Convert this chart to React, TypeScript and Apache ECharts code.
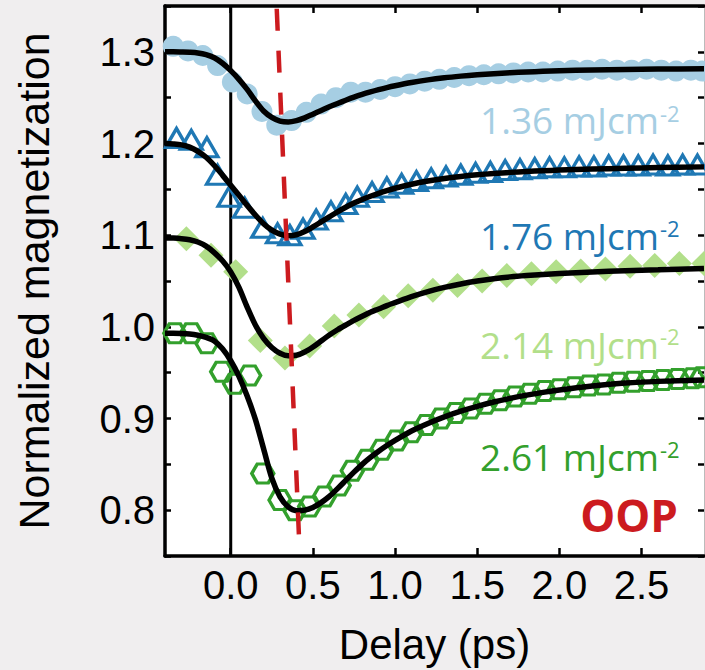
import React, { useEffect, useRef } from "react";
import * as echarts from "echarts";

// ---------- data ----------
const xTickValues = [0, 0.5, 1.0, 1.5, 2.0, 2.5];

// 1.36 mJcm-2 (filled light-blue circles)
const circleX = [-0.35, -0.26, -0.17, -0.08, 0.01, 0.10, 0.19, 0.28, 0.37, 0.46, 0.55, 0.64, 0.73, 0.82, 0.91, 1.00, 1.09, 1.18, 1.27, 1.36, 1.45, 1.54, 1.63, 1.72, 1.81, 1.90, 1.99, 2.08, 2.17, 2.26, 2.35, 2.44, 2.53, 2.62, 2.71, 2.80, 2.87];
const circleY = [1.306, 1.301, 1.296, 1.285, 1.267, 1.254, 1.235, 1.220, 1.225, 1.234, 1.243, 1.250, 1.256, 1.256, 1.259, 1.262, 1.265, 1.268, 1.270, 1.272, 1.274, 1.275, 1.276, 1.277, 1.278, 1.278, 1.279, 1.280, 1.280, 1.281, 1.280, 1.280, 1.281, 1.280, 1.279, 1.280, 1.279];

// 1.76 mJcm-2 (open blue triangles)
const triX = [-0.33, -0.24, -0.145, -0.08, -0.01, 0.085, 0.195, 0.285, 0.36, 0.44, 0.52, 0.61, 0.70, 0.77, 0.86, 0.95, 1.04, 1.13, 1.22, 1.31, 1.40, 1.49, 1.58, 1.67, 1.76, 1.85, 1.94, 2.03, 2.12, 2.21, 2.30, 2.39, 2.48, 2.57, 2.66, 2.75, 2.84];
const triY = [1.206, 1.204, 1.196, 1.166, 1.142, 1.130, 1.108, 1.102, 1.100, 1.107, 1.117, 1.126, 1.134, 1.142, 1.147, 1.152, 1.156, 1.159, 1.162, 1.164, 1.166, 1.168, 1.169, 1.171, 1.172, 1.173, 1.174, 1.174, 1.175, 1.175, 1.176, 1.176, 1.176, 1.177, 1.176, 1.177, 1.177];

// 2.14 mJcm-2 (filled light-green diamonds)
const diaX = [-0.27, -0.12, 0.03, 0.18, 0.33, 0.48, 0.63, 0.78, 0.93, 1.08, 1.23, 1.38, 1.53, 1.68, 1.83, 1.98, 2.13, 2.28, 2.43, 2.58, 2.73, 2.88];
const diaY = [1.096, 1.078, 1.060, 0.985, 0.966, 0.979, 1.001, 1.013, 1.022, 1.034, 1.040, 1.045, 1.050, 1.056, 1.058, 1.060, 1.061, 1.063, 1.066, 1.067, 1.069, 1.069];

// 2.61 mJcm-2 (open green hexagons)
const hexX = [-0.34, -0.24, -0.145, -0.055, 0.024, 0.115, 0.195, 0.30, 0.39, 0.48, 0.57, 0.66, 0.74, 0.83, 0.92, 1.01, 1.10, 1.19, 1.28, 1.37, 1.46, 1.55, 1.64, 1.73, 1.82, 1.91, 2.00, 2.09, 2.18, 2.27, 2.36, 2.45, 2.54, 2.63, 2.72, 2.81, 2.87];
const hexY = [0.993, 0.993, 0.982, 0.951, 0.938, 0.947, 0.840, 0.811, 0.800, 0.804, 0.815, 0.827, 0.843, 0.855, 0.866, 0.876, 0.885, 0.893, 0.900, 0.906, 0.911, 0.916, 0.920, 0.924, 0.927, 0.930, 0.932, 0.934, 0.936, 0.937, 0.939, 0.940, 0.941, 0.942, 0.943, 0.944, 0.945];

// fitted curves (black)
const fitX = [-0.4, -0.35, -0.3, -0.25, -0.2, -0.15, -0.1, -0.05, 0, 0.05, 0.1, 0.15, 0.2, 0.25, 0.3, 0.35, 0.4, 0.45, 0.5, 0.55, 0.6, 0.65, 0.7, 0.75, 0.8, 0.85, 0.9, 0.95, 1.0, 1.1, 1.2, 1.3, 1.4, 1.5, 1.6, 1.7, 1.8, 1.9, 2.0, 2.2, 2.4, 2.6, 2.88];
const fit1Y = [1.3000, 1.3000, 1.2998, 1.2995, 1.2988, 1.2970, 1.2935, 1.2875, 1.2795, 1.2700, 1.2590, 1.2465, 1.2355, 1.2285, 1.2245, 1.2235, 1.2250, 1.2280, 1.2320, 1.2360, 1.2400, 1.2437, 1.2472, 1.2505, 1.2535, 1.2562, 1.2587, 1.2610, 1.2630, 1.2665, 1.2694, 1.2717, 1.2735, 1.2750, 1.2762, 1.2772, 1.2780, 1.2787, 1.2793, 1.2802, 1.2808, 1.2812, 1.2815];
const fit2Y = [1.2000, 1.1995, 1.1985, 1.1960, 1.1915, 1.1850, 1.1760, 1.1655, 1.1545, 1.1435, 1.1325, 1.1220, 1.1125, 1.1055, 1.1012, 1.0995, 1.1005, 1.1040, 1.1090, 1.1145, 1.1200, 1.1255, 1.1305, 1.1350, 1.1390, 1.1425, 1.1457, 1.1486, 1.1512, 1.1555, 1.1590, 1.1618, 1.1640, 1.1658, 1.1673, 1.1685, 1.1695, 1.1703, 1.1710, 1.1721, 1.1730, 1.1737, 1.1745];
const fit3Y = [1.0970, 1.0968, 1.0962, 1.0950, 1.0925, 1.0880, 1.0810, 1.0720, 1.0600, 1.0430, 1.0215, 1.0020, 0.9875, 0.9775, 0.9712, 0.9685, 0.9690, 0.9725, 0.9780, 0.9845, 0.9910, 0.9968, 1.0020, 1.0070, 1.0115, 1.0160, 1.0195, 1.0232, 1.0265, 1.0330, 1.0385, 1.0430, 1.0468, 1.0500, 1.0525, 1.0545, 1.0560, 1.0572, 1.0582, 1.0598, 1.0612, 1.0622, 1.0636];
const fit4Y = [0.9930, 0.9930, 0.9928, 0.9922, 0.9908, 0.9885, 0.9845, 0.9760, 0.9630, 0.9460, 0.9245, 0.8990, 0.8670, 0.8350, 0.8145, 0.8035, 0.7995, 0.8000, 0.8030, 0.8082, 0.8150, 0.8235, 0.8325, 0.8415, 0.8500, 0.8575, 0.8643, 0.8705, 0.8762, 0.8864, 0.8946, 0.9018, 0.9080, 0.9133, 0.9180, 0.9220, 0.9255, 0.9285, 0.9311, 0.9354, 0.9386, 0.9405, 0.9420];

// red dashed guide through the minima, and the time-zero line
const guideX = [0.28, 0.417];
const guideY = [1.347, 0.764];
const zeroX = [0, 0];
const zeroY = [0.75, 1.35];

const labelTexts = ["1.36 mJcm", "1.76 mJcm", "2.14 mJcm", "2.61 mJcm"];
const labelSup = "-2";
const tagText = "OOP";

// ---------- styling ----------
const C_LBLUE = "#a6cee3";
const C_BLUE = "#1f78b4";
const C_LGREEN = "#b2df8a";
const C_GREEN = "#33a02c";
const C_RED = "#cc1b1f";
const AXIS_FONT = "'Liberation Sans', Arial, sans-serif";
const NOTE_FONT = "'Open Sans', 'Noto Sans', sans-serif";
const HEX = "path://M0,8.66L5,0L15,0L20,8.66L15,17.32L5,17.32Z";

const zip = (xs: number[], ys: number[]) => xs.map((x, i) => [x, ys[i]]);

export default function App() {
  const ref = useRef<HTMLDivElement>(null);

  useEffect(() => {
    if (!ref.current) return;
    const chart = echarts.init(ref.current, undefined, { renderer: "svg" });

    const fitLine = (ys: number[]) => ({
      type: "line",
      data: zip(fitX, ys),
      showSymbol: false,
      symbol: "none",
      smooth: 0.3,
      lineStyle: { color: "#000", width: 5.5 },
      z: 4,
      silent: true,
    });

    const labelLayout = [
      { y: 119.5, sy: 113, color: C_LBLUE },
      { y: 235, sy: 227.5, color: C_BLUE },
      { y: 344, sy: 336, color: C_LGREEN },
      { y: 456, sy: 449, color: C_GREEN },
    ];
    const graphics: any[] = [];
    labelTexts.forEach((t, i) => {
      const L = labelLayout[i];
      graphics.push({
        type: "text",
        x: 659,
        y: L.y,
        z: 10,
        style: { text: t, align: "right", verticalAlign: "middle", fontSize: 37, fontFamily: NOTE_FONT, fill: L.color },
      });
      graphics.push({
        type: "text",
        x: 660,
        y: L.sy,
        z: 10,
        style: { text: labelSup, align: "left", verticalAlign: "middle", fontSize: 22, fontFamily: NOTE_FONT, fill: L.color },
      });
    });
    graphics.push({
      type: "text",
      x: 678,
      y: 515,
      z: 10,
      style: { text: tagText, align: "right", verticalAlign: "middle", fontSize: 44, fontWeight: "bold", fontFamily: NOTE_FONT, fill: C_RED },
    });

    const option: any = {
      animation: false,
      backgroundColor: "#f0eeef",
      grid: { left: 165, right: 1, top: 6, bottom: 112, show: true, backgroundColor: "#ffffff", borderWidth: 0 },
      xAxis: [
        {
          type: "value",
          position: "bottom",
          min: -0.4,
          max: 2.88,
          name: "Delay (ps)",
          nameLocation: "middle",
          nameGap: 67,
          nameTextStyle: { fontSize: 42, color: "#000", fontFamily: AXIS_FONT },
          axisLine: { show: true, onZero: false, lineStyle: { color: "#000", width: 3.5 } },
          axisTick: { show: true, inside: true, length: 8, customValues: xTickValues, lineStyle: { color: "#000", width: 2.5 } },
          axisLabel: { show: true, customValues: xTickValues, formatter: (v: number) => v.toFixed(1), fontSize: 40, color: "#000", margin: 9, fontFamily: AXIS_FONT },
          splitLine: { show: false },
        },
        {
          type: "value",
          position: "top",
          min: -0.4,
          max: 2.88,
          axisLine: { show: true, onZero: false, lineStyle: { color: "#000", width: 3.5 } },
          axisTick: { show: true, inside: true, length: 7, customValues: xTickValues, lineStyle: { color: "#000", width: 2.5 } },
          axisLabel: { show: false },
          splitLine: { show: false },
        },
      ],
      yAxis: [
        {
          type: "value",
          position: "left",
          min: 0.75,
          max: 1.35,
          interval: 0.05,
          name: "Normalized magnetization",
          nameLocation: "middle",
          nameGap: 110,
          nameTextStyle: { fontSize: 43, color: "#000", fontFamily: AXIS_FONT },
          axisLine: { show: true, onZero: false, lineStyle: { color: "#000", width: 3.5 } },
          axisTick: { show: true, inside: true, length: 6, lineStyle: { color: "#000", width: 2.5 } },
          axisLabel: {
            show: true,
            fontSize: 40,
            color: "#000",
            margin: 10,
            fontFamily: AXIS_FONT,
            formatter: (v: number) => {
              const t = Math.round(v * 100);
              return t % 10 === 0 ? (t / 100).toFixed(1) : "";
            },
          },
          splitLine: { show: false },
        },
        {
          type: "value",
          position: "right",
          min: 0.75,
          max: 1.35,
          interval: 0.05,
          axisLine: { show: true, onZero: false, lineStyle: { color: "#bbbbbb", width: 1 } },
          axisTick: { show: true, inside: true, length: 6, lineStyle: { color: "#000", width: 2.5 } },
          axisLabel: { show: false },
          splitLine: { show: false },
        },
      ],
      series: [
        {
          type: "line",
          data: zip(zeroX, zeroY),
          showSymbol: false,
          symbol: "none",
          lineStyle: { color: "#000", width: 3 },
          z: 1,
          silent: true,
        },
        {
          type: "scatter",
          name: "1.36 mJcm-2",
          data: zip(circleX, circleY),
          symbol: "circle",
          symbolSize: 21,
          itemStyle: { color: C_LBLUE, opacity: 1 },
          z: 2,
          silent: true,
        },
        {
          type: "scatter",
          name: "1.76 mJcm-2",
          data: zip(triX, triY),
          symbol: "triangle",
          symbolSize: [22, 19],
          itemStyle: { color: "rgba(0,0,0,0)", borderColor: C_BLUE, borderWidth: 3.3, opacity: 1 },
          z: 2,
          silent: true,
        },
        {
          type: "scatter",
          name: "2.14 mJcm-2",
          data: zip(diaX, diaY),
          symbol: "diamond",
          symbolSize: 25,
          itemStyle: { color: C_LGREEN, opacity: 1 },
          z: 2,
          silent: true,
        },
        {
          type: "scatter",
          name: "2.61 mJcm-2",
          data: zip(hexX, hexY),
          symbol: HEX,
          symbolSize: [22, 19],
          itemStyle: { color: "rgba(0,0,0,0)", borderColor: C_GREEN, borderWidth: 3.3, opacity: 1 },
          z: 2,
          silent: true,
        },
        fitLine(fit1Y),
        fitLine(fit2Y),
        fitLine(fit3Y),
        fitLine(fit4Y),
        {
          type: "line",
          data: zip(guideX, guideY),
          showSymbol: false,
          symbol: "none",
          lineStyle: { color: C_RED, width: 4.5, type: [22, 20] },
          z: 5,
          silent: true,
        },
      ],
      graphic: graphics,
    };

    chart.setOption(option);
    return () => chart.dispose();
  }, []);

  return (
    <div
      ref={ref}
      style={{ position: "fixed", left: 0, top: 0, width: 705, height: 670 }}
    />
  );
}
